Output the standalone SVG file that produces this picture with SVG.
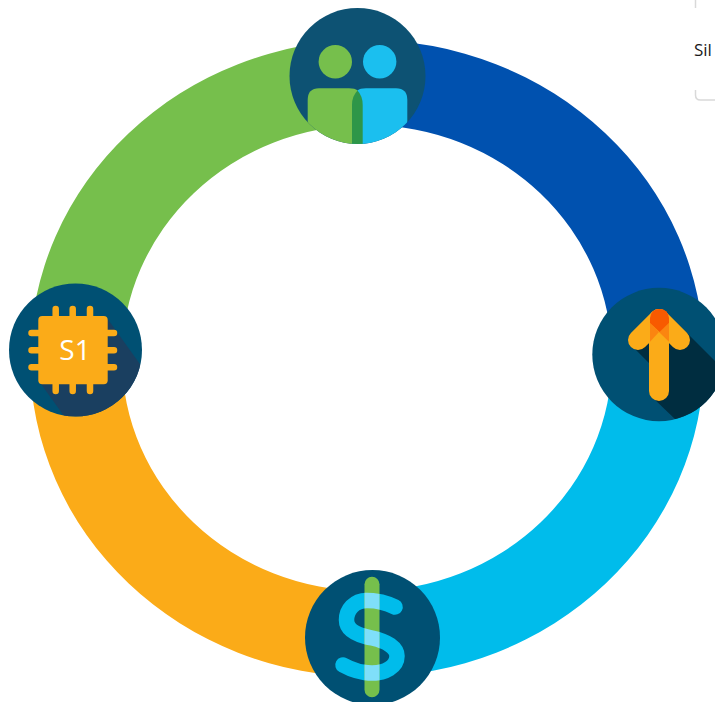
<svg xmlns="http://www.w3.org/2000/svg" width="715" height="702" viewBox="0 0 715 702">
<style>
.disc{fill:#005073}
.sdl{fill:none;stroke-width:15.5;stroke-linecap:round}
text{font-family:"Open Sans","Noto Sans","Liberation Sans",sans-serif}
</style>
<defs>
<clipPath id="cT"><circle cx="357.5" cy="76" r="68"/></clipPath>
<clipPath id="cL"><circle cx="75.5" cy="350" r="66.5"/></clipPath>
<clipPath id="cR"><circle cx="659" cy="354.5" r="66.7"/></clipPath>
<clipPath id="cBar"><rect x="364.5" y="570" width="15" height="130"/></clipPath>
</defs>
<rect width="715" height="702" fill="#fff"/>
<g id="ring">
<path fill="#76BF4C" d="M30 358A337 318 0 0 1 367 40V125A245 233 0 0 0 122 358Z"/>
<path fill="#0051AF" d="M367 40A337 318 0 0 1 704 358H612A245 233 0 0 0 367 125Z"/>
<path fill="#00BCEB" d="M704 358A337 318 0 0 1 367 677V591A245 233 0 0 0 612 358Z"/>
<path fill="#FBAB18" d="M367 677A337 319 0 0 1 30 358H122A245 233 0 0 0 367 591Z"/>
</g>
<g id="node-people">
<circle cx="357.5" cy="76" r="68" fill="#0D5273"/>
<circle cx="335.3" cy="61.7" r="16.7" fill="#76BF4C"/>
<circle cx="379.7" cy="61.7" r="16.7" fill="#1BBFEF"/>
<g clip-path="url(#cT)">
<path fill="#76BF4C" d="M307.7 160V100Q307.7 88.3 319 88.3H349Q355 88.3 357.5 90.5L362.7 105V160Z"/>
<path fill="#1BBFEF" d="M407.3 160V100Q407.3 88.3 396 88.3H366Q360 88.3 357.5 90.5L352 105V160Z"/>
<path fill="#2E9648" d="M352 160V105Q352 96 357.5 90.5Q362.7 96 362.7 105V160Z"/>
</g>
</g>
<g id="node-chip">
<circle cx="75.5" cy="350" r="66.5" class="disc"/>
<polygon clip-path="url(#cL)" fill="#1A3F60" points="107,318 142,367 142,420 64,416 41,384"/>
<g stroke="#FBAB18" stroke-width="6.5" stroke-linecap="round">
<path d="M55.7 309V391M72.7 309V391M90 309V391M31.5 333H114M31.5 350.3H114M31.5 367.3H114"/>
</g>
<rect x="38.3" y="316" width="69.4" height="68.3" rx="4" fill="#FBAB18"/>
<text x="75" y="360" font-size="28" fill="#fff" text-anchor="middle">S1</text>
</g>
<g id="node-arrow">
<circle cx="659" cy="354.5" r="66.7" fill="#005073"/>
<polygon clip-path="url(#cR)" fill="#002D40" points="686,332 730,376 730,430 676,420 652,397 652,365 649,363 634,348"/>
<path d="M659 319V391" stroke="#FBAB18" stroke-width="20" stroke-linecap="round" fill="none"/>
<path d="M638 340L659 319L680 340" stroke="#FBAB18" stroke-width="20" stroke-linecap="round" stroke-linejoin="round" fill="none"/>
<polygon fill="#FB8510" points="650,323 659,332 650,341.7"/>
<polygon fill="#FB8510" points="669,323 659,332 669,341.7"/>
<path fill="#F85A00" d="M650 323V318Q651 309 659.5 309Q668 309 669 318V323L659.5 332Z"/>
</g>
<g id="node-dollar">
<circle cx="372.5" cy="637.5" r="67.5" fill="#005073"/>
<path class="sdl" stroke="#00BCEB" d="M395 607C385 602 375 600.5 367 600.5C354 600.5 346.5 610 346.5 620C346.5 630 356 635 372 638C387 641 397 648 397 656C397 667 385 673 372 673C362 673 352 670 343 665"/>
<rect x="364.5" y="576.7" width="15" height="120.6" rx="7.5" fill="#76BF4C"/>
<path class="sdl" stroke="#7FDFF9" clip-path="url(#cBar)" d="M395 607C385 602 375 600.5 367 600.5C354 600.5 346.5 610 346.5 620C346.5 630 356 635 372 638C387 641 397 648 397 656C397 667 385 673 372 673C362 673 352 670 343 665"/>
</g>
<g id="node-note">
<path fill="none" stroke="#D9D9D9" stroke-width="1.5" d="M695.5 0V8M695.5 90V95Q695.5 100 700.5 100H715"/>
<text x="694" y="56" font-size="17" fill="#1a1a1a">Sil</text>
</g>
</svg>
